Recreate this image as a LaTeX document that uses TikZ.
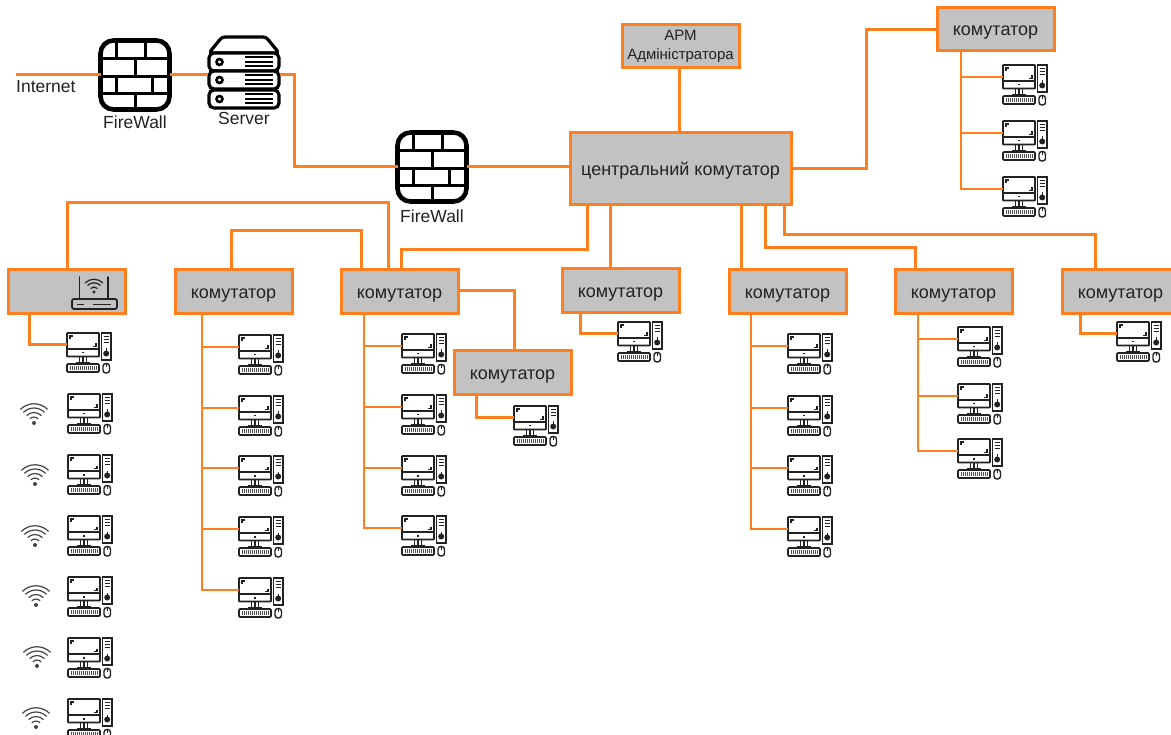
\documentclass[tikz,border=0pt]{standalone}
\usepackage{fontspec}
\setmainfont{Liberation Sans}
\definecolor{wirec}{HTML}{FF7F1E}
\definecolor{boxc}{HTML}{C2C2C2}
\definecolor{inkc}{HTML}{222222}
\tikzset{
  wire/.style={draw=wirec,line width=3pt},
  subwire/.style={draw=wirec,line width=2.8pt},
  swbox/.style={draw=wirec,fill=boxc,line width=3pt,inner sep=0pt,outer sep=0pt,minimum width=117pt,minimum height=44pt,anchor=north west,text=inkc,font=\fontsize{18}{21}\selectfont,text height=13pt,text depth=0pt},
  pcbox/.style={inner sep=0pt,outer sep=0pt,minimum width=32pt,minimum height=24pt,anchor=north west},
  label/.style={inner sep=0pt,text=inkc,font=\fontsize{17.5}{20}\selectfont},
  fwbox/.style={draw=black,fill=white,line width=4.6pt,rounded corners=13pt,inner sep=0pt,outer sep=0pt,minimum width=69pt,minimum height=69pt},
  pc/.pic={
    \draw[inkc,line width=1.6pt,rounded corners=.6pt] (0,0) rectangle (32,23.5);
    \draw[inkc,line width=1.5pt] (0,16) -- (32,16);
    \fill[inkc] (15.4,19) rectangle (16.6,20.5);
    \draw[inkc,line width=1.2pt] (3,6) -- (3,3) -- (6,3) (29,10.5) -- (29,13.5) -- (26,13.5);
    \draw[inkc,line width=1.1pt] (12.5,23.5) -- (12.5,30) (19.5,23.5) -- (19.5,30) (16,24) -- (16,29);
    \draw[inkc,line width=1.5pt] (9,29.7) -- (23,29.7);
    \draw[inkc,line width=1.5pt] (34.5,0) rectangle (44,27);
    \draw[inkc,line width=1.1pt] (36.5,3.5) -- (42,3.5) (36.5,6.5) -- (42,6.5) (36.5,9.5) -- (42,9.5);
    \fill[inkc] (39.2,20.5) circle (3);
    \fill[inkc] (38.5,15.5) rectangle (40,18);
    \draw[inkc,line width=1.6pt,rounded corners=1pt] (0,31) rectangle (32,39);
    \draw[inkc!80,line width=3.6pt,dash pattern=on 1pt off 1pt] (2.5,35) -- (29.5,35);
    \draw[inkc,line width=1.4pt,rounded corners=2.8pt] (36,30.5) rectangle (42.5,40);
    \draw[inkc,line width=.8pt] (39.2,31) -- (39.2,34);
  },
  wifi/.pic={
    \fill[inkc!85] (0,0) circle (2);
    \draw[inkc!85,line width=1.2pt] (-4.2,-4.2) arc (225:315:5.9);
    \draw[inkc!85,line width=1.2pt] (-7.4,-7.4) arc (225:315:10.5);
    \draw[inkc!85,line width=1.2pt] (-10.6,-10.6) arc (225:315:15);
    \draw[inkc!85,line width=1.2pt] (-13.6,-13.6) arc (225:315:19.2);
  },
  bricks/.pic={
    \draw[black,line width=3.4pt]
      (2,20) -- (70,20) (2,38) -- (70,38) (2,55) -- (70,55)
      (18,2) -- (18,20) (47,2) -- (47,20) (37,20) -- (37,38)
      (18,38) -- (18,55) (54,38) -- (54,55) (37,55) -- (37,70);
  },
  rack/.pic={
    \draw[black,line width=3.2pt,fill=white,rounded corners=5pt] (1,0) rectangle (71,18);
    \draw[black,line width=2.6pt] (11.5,9) circle (3);
    \draw[black,line width=2pt] (37,4.5) -- (65,4.5) (37,9) -- (65,9) (37,13.5) -- (65,13.5);
  },
  router/.pic={
    \draw[inkc,line width=1.8pt,rounded corners=2pt] (0,24) rectangle (45,34);
    \draw[inkc,line width=1.1pt] (5,29.5) -- (12,29.5) (21,29.5) -- (39,29.5);
    \draw[inkc,line width=1.7pt,line cap=round] (7.5,24) -- (7.5,2) (36,24) -- (36,2);
    \fill[inkc] (22,17) circle (1.6);
    \draw[inkc,line width=1.2pt] (18.5,13.5) arc (225:315:5);
    \draw[inkc,line width=1.2pt] (15.5,10.5) arc (225:315:9.2);
    \draw[inkc,line width=1.2pt] (13,8) arc (225:315:12.7);
  },
}
\newcommand{\pcnode}[3]{\node[pcbox] (#1) at (#2,#3) {}; \pic at (#2,#3) {pc};}
\begin{document}
\begin{tikzpicture}[x=1pt,y=-1pt]
\useasboundingbox (0,0) rectangle (1171,735);
\fill[white] (0,0) rectangle (1171,735);

% connectors
\coordinate (inet) at (16,74.5);
\node[inner sep=0pt,outer sep=0pt,minimum width=72pt,minimum height=73pt,anchor=north west] (server) at (208,36) {};
\node[fwbox,anchor=north west] (fw1) at (100.5,40.5) {};
\node[fwbox,anchor=north west] (fw2) at (397.5,132.5) {};

% switches
\node[swbox,minimum height=43pt,text height={},text depth={}] (apm) at (622,25) {\parbox{117pt}{\centering\fontsize{15}{19}\selectfont АРМ\\ Адміністратора}};
\node[swbox,minimum height=43pt] (swtop) at (937,8) {комутатор};
\node[swbox,minimum width=221pt,minimum height=72pt] (central) at (570,133) {центральний комутатор};
\node[swbox] (router) at (8,270) {};
\pic at (72,275) {router};
\node[swbox] (sw1) at (175,270) {комутатор};
\node[swbox] (sw2) at (341,270) {комутатор};
\node[swbox] (sw3) at (454,351) {комутатор};
\node[swbox] (sw4) at (562,269) {комутатор};
\node[swbox] (sw5) at (729,270) {комутатор};
\node[swbox] (sw6) at (895,270) {комутатор};
\node[swbox] (sw7) at (1062,270) {комутатор};

% icons
\pic at (98.5,38.5) {bricks};
\draw[black,line width=3.2pt,fill=white,rounded corners=3pt,line join=round] (server.north west)++(1,17) -- ++(13,-16) -- ++(44,0) -- ++(13,16) -- cycle;
\pic at (208,53) {rack};
\pic at (208,71) {rack};
\pic at (208,90) {rack};
\pic at (395.5,130.5) {bricks};

\node[label,anchor=west] (tinet) at (16,87) {Internet};
\node[label] (tfw1) at (135,122) {FireWall};
\node[label] (tsrv) at (244,118) {Server};
\node[label] (tfw2) at (432,216) {FireWall};

% computers
\pcnode{a0}{67}{333}
\foreach \n/\y in {1/394,2/455,3/516,4/577,5/638,6/699}{\pcnode{a\n}{68}{\y}}
\pic at (34,423) {wifi};
\pic at (35,484) {wifi};
\pic at (35,545) {wifi};
\pic at (36,605) {wifi};
\pic at (37,666) {wifi};
\pic at (36,727) {wifi};
\pcnode{b1}{239}{335}\pcnode{b2}{239}{396}\pcnode{b3}{239}{456}\pcnode{b4}{239}{517}\pcnode{b5}{239}{578}
\pcnode{c1}{402}{334}\pcnode{c2}{402}{395}\pcnode{c3}{402}{456}\pcnode{c4}{402}{516}
\pcnode{d1}{514}{406}
\pcnode{e1}{618}{322}
\pcnode{f1}{788}{334}\pcnode{f2}{788}{396}\pcnode{f3}{788}{456}\pcnode{f4}{788}{517}
\pcnode{g1}{958}{327}\pcnode{g2}{958}{384}\pcnode{g3}{958}{439}
\pcnode{h1}{1117}{322}
\pcnode{t1}{1003}{65}\pcnode{t2}{1003}{121}\pcnode{t3}{1003}{177}

\draw[wire] (inet) -- (fw1.west |- inet);
\draw[wire] (fw1.east |- inet) -- (server.west |- inet);
\draw[wire] (server.east |- inet) -- ++(14,0) |- (fw2.west);
\draw[wire] (fw2.east) -- (central.west |- fw2.east);
\draw[wire] ([xshift=-1pt]central.north) -- ([xshift=-1pt]apm.south);
\draw[wire] (central.east) -- ++(75,0) |- (swtop.west);
\draw[wire] ([xshift=17pt]central.south west) -- ++(0,45) -| ([xshift=60pt]sw2.north west);
\draw[wire] ([xshift=40pt]central.south west) -- ([xshift=48pt]sw4.north west);
\draw[wire] ([xshift=171pt]central.south west) -- ([xshift=12pt]sw5.north west);
\draw[wire] ([xshift=195pt]central.south west) -- ++(0,43) -| ([xshift=20pt]sw6.north west);
\draw[wire] ([xshift=214pt]central.south west) -- ++(0,30) -| ([xshift=33pt]sw7.north west);
\draw[wire] ([xshift=47pt]sw2.north west) -- ++(0,-67) -| ([xshift=59pt]router.north west);
\draw[wire] ([xshift=20pt]sw2.north west) -- ++(0,-39) -| ([xshift=56pt]sw1.north west);
\draw[wire] ([yshift=1pt]sw2.east) -| ([xshift=60pt]sw3.north west);
\draw[wire] ([xshift=22pt]sw3.south west) |- (d1.west);
\draw[wire] ([xshift=21pt]router.south west) |- (a0.west);
\draw[wire] ([xshift=18pt]sw4.south west) |- (e1.west);
\draw[wire] ([xshift=18pt]sw7.south west) |- (h1.west);
\foreach \n in {1,...,5}{\draw[subwire] ([xshift=27pt]sw1.south west) |- (b\n.west);}
\foreach \n in {1,...,4}{\draw[subwire] ([xshift=23pt]sw2.south west) |- (c\n.west);}
\foreach \n in {1,...,4}{\draw[subwire] ([xshift=22pt]sw5.south west) |- (f\n.west);}
\foreach \n in {1,2,3}{\draw[subwire] ([xshift=23pt]sw6.south west) |- (g\n.west);}
\foreach \n in {1,2,3}{\draw[subwire] ([xshift=24pt]swtop.south west) |- (t\n.west);}
\end{tikzpicture}
\end{document}
